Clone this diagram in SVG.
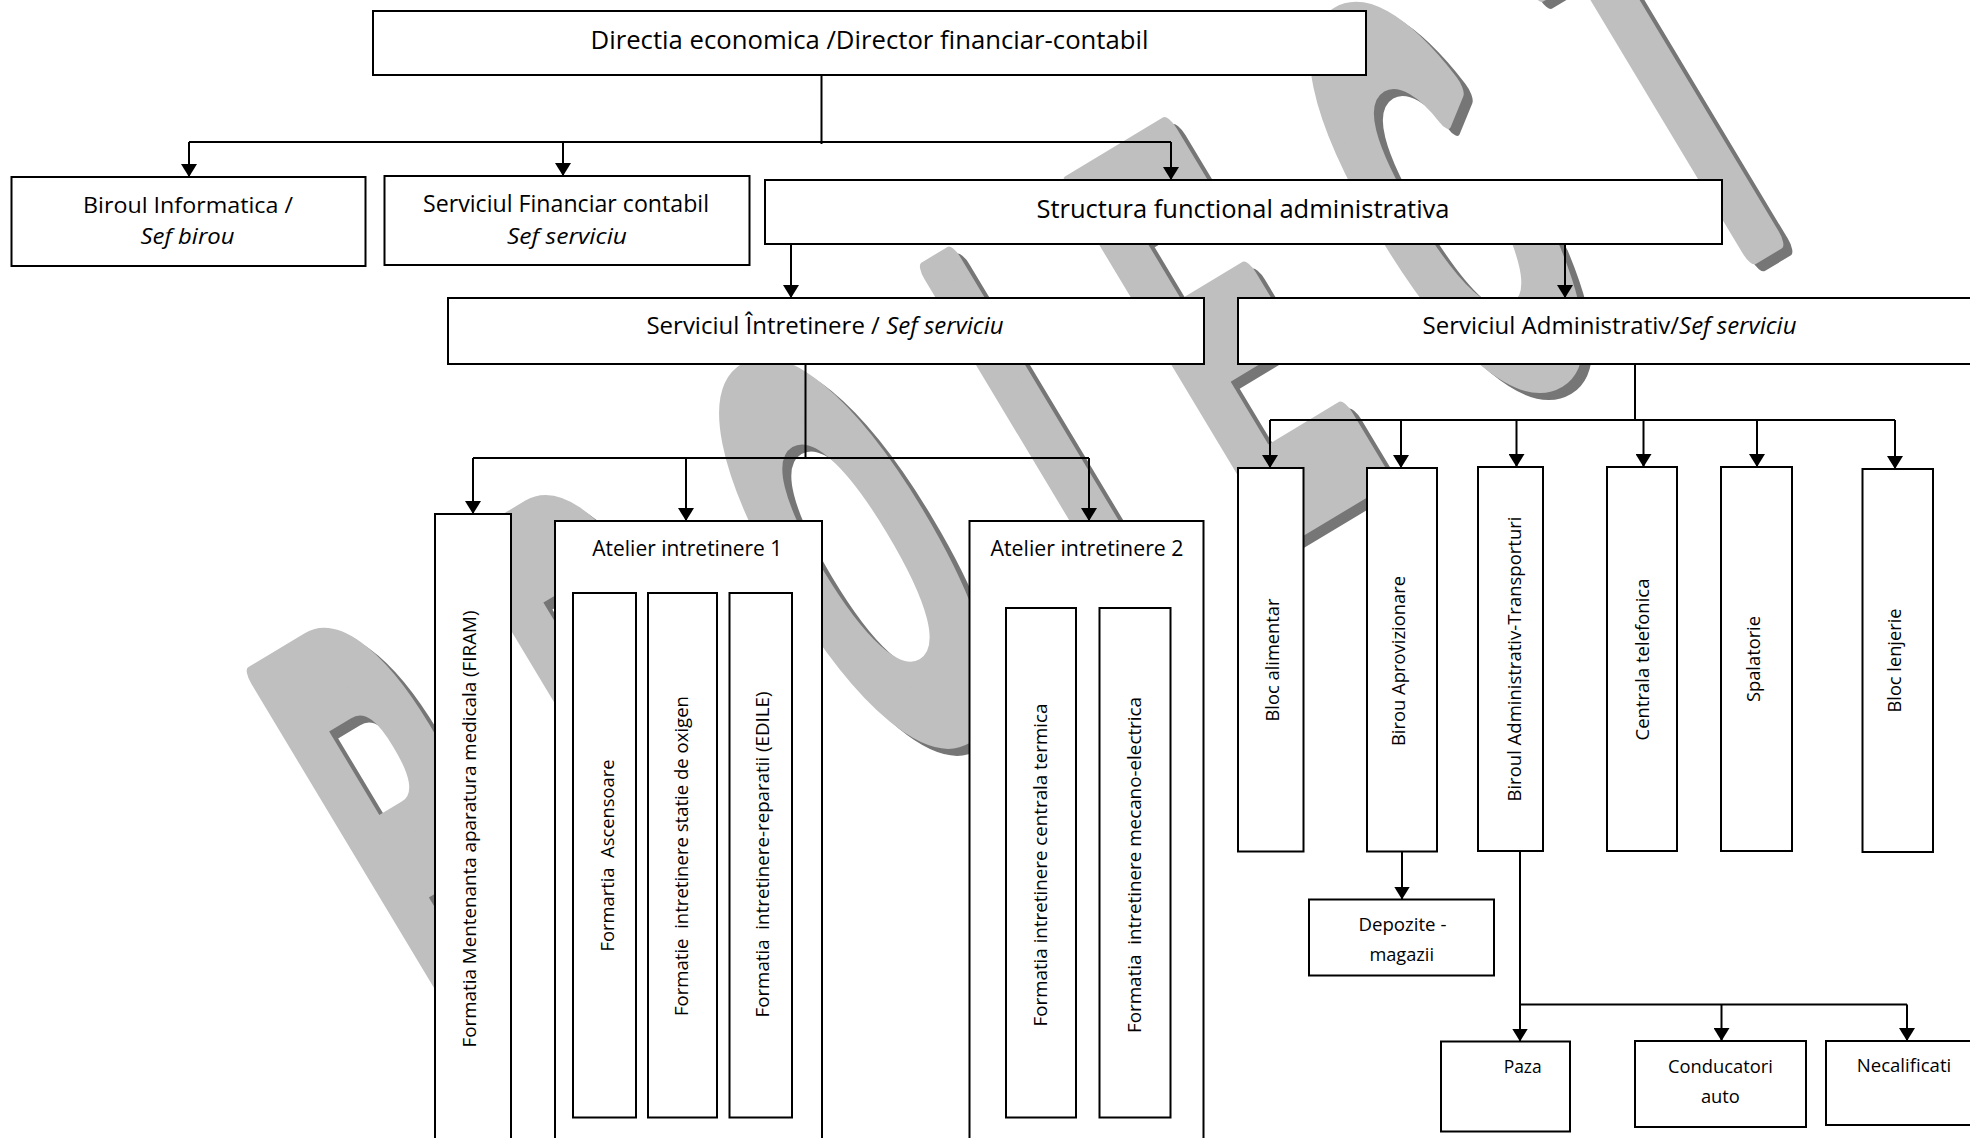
<svg xmlns="http://www.w3.org/2000/svg" width="1970" height="1138" viewBox="0 0 1970 1138">
<style>
.box{fill:#fff;stroke:#000;stroke-width:2}
.ln{fill:none;stroke:#000;stroke-width:2}
.ar{marker-end:url(#ah)}
.t{font-family:"Open Sans","Liberation Sans",sans-serif;fill:#000}
.c{text-anchor:middle}
.i{font-style:italic}
.s{font-size:18.5px}
.wm{font-family:"Liberation Sans",Arial,sans-serif;font-weight:bold;font-size:400px;letter-spacing:205px;stroke-width:22px;stroke-linejoin:round}
</style>
<defs>
<marker id="ah" markerWidth="13" markerHeight="16" refX="13" refY="8" orient="auto" markerUnits="userSpaceOnUse">
<path d="M0,0 L13,8 L0,16 z" fill="#000"/>
</marker>
</defs>
<rect width="1970" height="1138" fill="#fff"/>
<g id="watermark">
<text class="wm" transform="translate(458.7,1037.2) rotate(-31) scale(0.53,1.45)" fill="#767676" stroke="#767676">PROIECT</text>
<text class="wm" transform="translate(449.7,1030.2) rotate(-31) scale(0.53,1.45)" fill="#bfbfbf" stroke="#bfbfbf">PROIECT</text>
</g>
<g id="n-director"><rect class="box" x="373" y="11" width="993" height="64"/>
<text class="t c" x="869.5" y="49" font-size="26" textLength="558" lengthAdjust="spacingAndGlyphs">Directia economica /Director financiar-contabil</text></g>
<g id="n-informatica"><rect class="box" x="11.5" y="177" width="354" height="89"/>
<text class="t c" x="188" y="213" font-size="22" textLength="210" lengthAdjust="spacingAndGlyphs">Biroul Informatica /</text>
<text class="t c i" x="187.5" y="244" font-size="22" textLength="94" lengthAdjust="spacingAndGlyphs">Sef birou</text></g>
<g id="n-financiar"><rect class="box" x="384.5" y="176" width="365" height="89"/>
<text class="t c" x="566" y="212" font-size="23" textLength="286" lengthAdjust="spacingAndGlyphs">Serviciul Financiar contabil</text>
<text class="t c i" x="567" y="244" font-size="22" textLength="120" lengthAdjust="spacingAndGlyphs">Sef serviciu</text></g>
<g id="n-structura"><rect class="box" x="765" y="180" width="957" height="64"/>
<text class="t c" x="1243" y="218" font-size="26" textLength="413" lengthAdjust="spacingAndGlyphs">Structura functional administrativa</text></g>
<g id="n-intretinere"><rect class="box" x="448" y="298" width="756" height="66"/>
<text class="t c" x="825" y="334" font-size="24">Serviciul Întretinere / <tspan class="i">Sef serviciu</tspan></text></g>
<g id="n-administrativ"><rect class="box" x="1238" y="298" width="745" height="66"/>
<text class="t c" x="1609.5" y="334" font-size="24">Serviciul Administrativ/<tspan class="i">Sef serviciu</tspan></text></g>
<g id="n-firam"><rect class="box" x="435" y="514" width="76" height="640"/>
<text class="t c s" transform="translate(475.5,829) rotate(-90)" textLength="437" lengthAdjust="spacingAndGlyphs">Formatia Mentenanta aparatura medicala (FIRAM)</text></g>
<g id="n-atelier1"><rect class="box" x="555" y="521" width="267" height="630"/>
<text class="t c" x="687.3" y="556" font-size="21" textLength="190" lengthAdjust="spacingAndGlyphs">Atelier intretinere 1</text></g>
<g id="n-ascensoare"><rect class="box" x="573" y="593" width="63" height="524.5"/>
<text class="t c s" transform="translate(614.4,855.5) rotate(-90)" xml:space="preserve" textLength="192" lengthAdjust="spacingAndGlyphs">Formartia  Ascensoare</text></g>
<g id="n-oxigen"><rect class="box" x="648" y="593" width="69" height="524.5"/>
<text class="t c s" transform="translate(687.5,856) rotate(-90)" xml:space="preserve" textLength="320" lengthAdjust="spacingAndGlyphs">Formatie  intretinere statie de oxigen</text></g>
<g id="n-edile"><rect class="box" x="729.5" y="593" width="62.5" height="524.5"/>
<text class="t c s" transform="translate(768.5,854.5) rotate(-90)" xml:space="preserve" textLength="326" lengthAdjust="spacingAndGlyphs">Formatia  intretinere-reparatii (EDILE)</text></g>
<g id="n-atelier2"><rect class="box" x="969.5" y="521" width="234" height="630"/>
<text class="t c" x="1087" y="556" font-size="21" textLength="193" lengthAdjust="spacingAndGlyphs">Atelier intretinere 2</text></g>
<g id="n-termica"><rect class="box" x="1006" y="608" width="70" height="509.5"/>
<text class="t c s" transform="translate(1047,865) rotate(-90)" textLength="323" lengthAdjust="spacingAndGlyphs">Formatia intretinere centrala termica</text></g>
<g id="n-mecano"><rect class="box" x="1099.5" y="608" width="71" height="509.5"/>
<text class="t c s" transform="translate(1141.4,865) rotate(-90)" xml:space="preserve" textLength="336" lengthAdjust="spacingAndGlyphs">Formatia  intretinere mecano-electrica</text></g>
<g id="n-alimentar"><rect class="box" x="1238" y="468" width="65.5" height="383.5"/>
<text class="t c s" transform="translate(1279,660) rotate(-90)" textLength="123" lengthAdjust="spacingAndGlyphs">Bloc alimentar</text></g>
<g id="n-aprovizionare"><rect class="box" x="1367" y="468" width="70" height="383.5"/>
<text class="t c s" transform="translate(1404.5,661) rotate(-90)" textLength="170" lengthAdjust="spacingAndGlyphs">Birou Aprovizionare</text></g>
<g id="n-transporturi"><rect class="box" x="1478" y="467" width="65" height="384"/>
<text class="t c s" transform="translate(1521,659) rotate(-90)" textLength="285" lengthAdjust="spacingAndGlyphs">Biroul Administrativ-Transporturi</text></g>
<g id="n-telefonica"><rect class="box" x="1607" y="467" width="70" height="384"/>
<text class="t c s" transform="translate(1649.2,659.5) rotate(-90)" textLength="162" lengthAdjust="spacingAndGlyphs">Centrala telefonica</text></g>
<g id="n-spalatorie"><rect class="box" x="1721" y="467" width="71" height="384"/>
<text class="t c s" transform="translate(1760.3,659) rotate(-90)" textLength="86" lengthAdjust="spacingAndGlyphs">Spalatorie</text></g>
<g id="n-lenjerie"><rect class="box" x="1862.5" y="469" width="70.5" height="383"/>
<text class="t c s" transform="translate(1901.4,660.5) rotate(-90)" textLength="104" lengthAdjust="spacingAndGlyphs">Bloc lenjerie</text></g>
<g id="n-depozite"><rect class="box" x="1309" y="899.5" width="185" height="76"/>
<text class="t c s" x="1402.4" y="931" textLength="88" lengthAdjust="spacingAndGlyphs">Depozite -</text>
<text class="t c s" x="1401.7" y="961" textLength="64.6" lengthAdjust="spacingAndGlyphs">magazii</text></g>
<g id="n-paza"><rect class="box" x="1441" y="1041.5" width="129" height="90"/>
<text class="t c s" x="1522.7" y="1072.7" textLength="38" lengthAdjust="spacingAndGlyphs">Paza</text></g>
<g id="n-conducatori"><rect class="box" x="1635" y="1041" width="171" height="86"/>
<text class="t c s" x="1720.4" y="1072.7" textLength="105" lengthAdjust="spacingAndGlyphs">Conducatori</text>
<text class="t c s" x="1720.4" y="1103.3" textLength="39" lengthAdjust="spacingAndGlyphs">auto</text></g>
<g id="n-necalificati"><rect class="box" x="1826" y="1041" width="150" height="84"/>
<text class="t c s" x="1904" y="1071.7" textLength="94.6" lengthAdjust="spacingAndGlyphs">Necalificati</text></g>
<g id="connectors">
<path class="ln" d="M821.5,75 V144 M189,142 H1171"/>
<path class="ln ar" d="M189,142 V177"/>
<path class="ln ar" d="M563,142 V176"/>
<path class="ln ar" d="M1171,142 V180"/>
<path class="ln ar" d="M791,244 V298"/>
<path class="ln ar" d="M1565,244 V298"/>
<path class="ln" d="M805.5,364 V458 M473,458 H1089"/>
<path class="ln ar" d="M473,458 V514"/>
<path class="ln ar" d="M686,458 V521"/>
<path class="ln ar" d="M1089,458 V521"/>
<path class="ln" d="M1635,364 V420 M1270,420 H1895"/>
<path class="ln ar" d="M1270,420 V468"/>
<path class="ln ar" d="M1401,420 V468"/>
<path class="ln ar" d="M1516.5,420 V467"/>
<path class="ln ar" d="M1643.5,420 V467"/>
<path class="ln ar" d="M1757,420 V467"/>
<path class="ln ar" d="M1895,420 V469"/>
<path class="ln ar" d="M1402,851.5 V899.5"/>
<path class="ln" d="M1520,851 V1004.5 H1907"/>
<path class="ln ar" d="M1520,1004.5 V1041.5"/>
<path class="ln ar" d="M1721.5,1004.5 V1041"/>
<path class="ln ar" d="M1907,1004.5 V1041"/>
</g>
</svg>
